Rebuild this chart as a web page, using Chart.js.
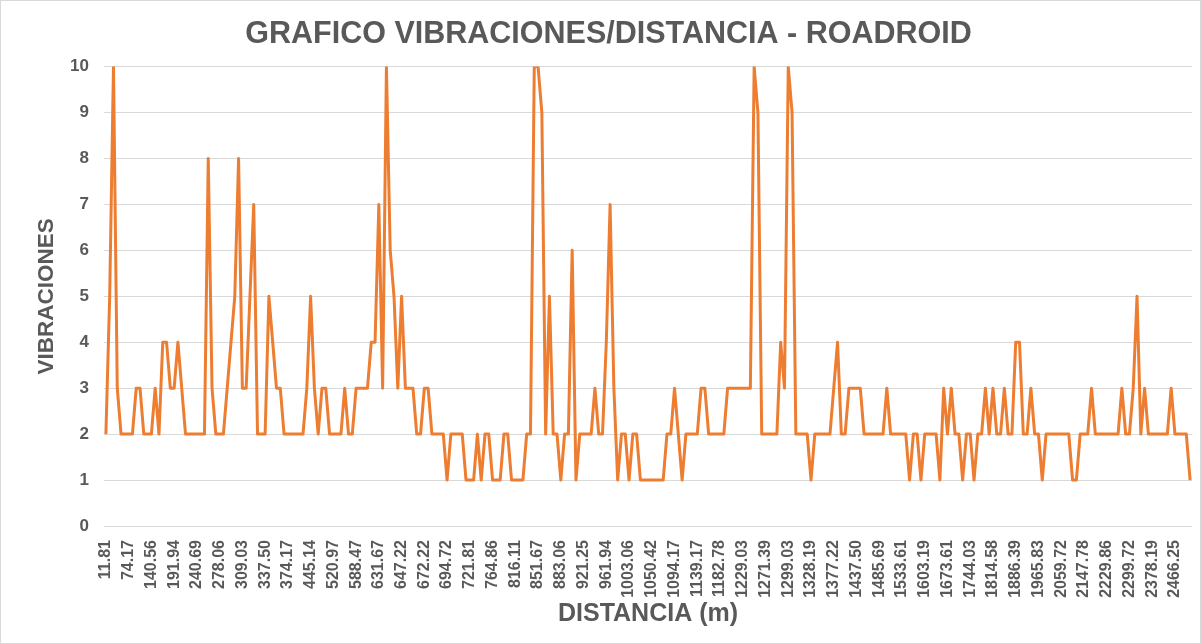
<!DOCTYPE html>
<html>
<head>
<meta charset="utf-8">
<script src="https://cdn.jsdelivr.net/npm/chart.js@4.4.1/dist/chart.umd.min.js"></script>
<style>
  html, body { margin: 0; padding: 0; background: #ffffff; }
  #wrap { width: 1201px; height: 644px; }
</style>
</head>
<body>
<div id="wrap"><canvas id="c" width="1201" height="644"></canvas></div>
<script>
// Tick labels shown on the category axis (one every 6 readings)
const distanciaTicks = [
  "11.81", "74.17", "140.56", "191.94", "240.69", "278.06", "309.03", "337.50",
  "374.17", "445.14", "520.97", "588.47", "631.67", "647.22", "672.22", "694.72",
  "721.81", "764.86", "816.11", "851.67", "883.06", "921.25", "961.94", "1003.06",
  "1050.42", "1094.17", "1139.17", "1182.78", "1229.03", "1271.39", "1299.03", "1328.19",
  "1377.22", "1437.50", "1485.69", "1533.61", "1603.19", "1673.61", "1744.03", "1814.58",
  "1886.39", "1965.83", "2059.72", "2147.78", "2229.86", "2299.72", "2378.19", "2466.25"
];
const tickEvery = 6;

// Vibration readings, in order along the road
const vibraciones = [
  2,5,10,3,2,2,2,2,3,3,
  2,2,2,3,2,4,4,3,3,4,
  3,2,2,2,2,2,2,8,3,2,
  2,2,3,4,5,8,3,3,5,7,
  2,2,2,5,4,3,3,2,2,2,
  2,2,2,3,5,3,2,3,3,2,
  2,2,2,3,2,2,3,3,3,3,
  4,4,7,3,10,6,5,3,5,3,
  3,3,2,2,3,3,2,2,2,2,
  1,2,2,2,2,1,1,1,2,1,
  2,2,1,1,1,2,2,1,1,1,
  1,2,2,10,10,9,2,5,2,2,
  1,2,2,6,1,2,2,2,2,3,
  2,2,4,7,3,1,2,2,1,2,
  2,
  1,1,1,1,1,1,1,
  2,2,3,2,1,2,2,2,2,3,
  3,2,2,2,2,2,3,3,3,3,
  3,3,3,10,9,2,2,2,2,2,
  4,3,10,9,2,2,2,2,1,2,
  2,2,2,2,3,4,2,2,3,3,
  3,3,2,2,2,2,2,2,3,2,
  2,2,2,2,1,2,2,1,2,2,
  2,2,1,3,2,3,2,2,1,2,
  2,1,2,2,3,2,3,2,2,3,
  2,2,4,4,2,2,3,2,2,1,
  2,2,2,2,2,2,2,1,1,2,
  2,2,3,2,2,2,2,2,2,2,
  3,2,2,3,5,2,3,2,2,2,
  2,2,2,3,2,2,2,2,1
];

const yTicks = [0,1,2,3,4,5,6,7,8,9,10];

const labels = vibraciones.map((_, i) =>
  (i % tickEvery === 0 && distanciaTicks[i / tickEvery] !== undefined) ? distanciaTicks[i / tickEvery] : ""
);

const TXT = '#595959';
const FONT = 'Liberation Sans, Arial, sans-serif';

const borderPlugin = {
  id: 'frame',
  afterDraw(chart) {
    const ctx = chart.ctx;
    ctx.save();
    ctx.strokeStyle = '#d9d9d9';
    ctx.lineWidth = 1;
    ctx.strokeRect(0.5, 0.5, chart.width - 1, chart.height - 1);
    ctx.restore();
  }
};

new Chart(document.getElementById('c'), {
  type: 'line',
  data: {
    labels: labels,
    datasets: [{
      label: 'Vibraciones',
      data: vibraciones,
      borderColor: '#ED7D31',
      backgroundColor: '#ED7D31',
      borderWidth: 3,
      pointRadius: 0,
      tension: 0,
      fill: false,
      borderJoinStyle: 'round'
    }]
  },
  options: {
    responsive: false,
    animation: false,
    devicePixelRatio: 1,
    layout: { padding: { left: 25, right: 9, top: 0, bottom: 0 } },
    plugins: {
      legend: { display: false },
      tooltip: { enabled: false },
      title: {
        display: true,
        text: 'GRAFICO VIBRACIONES/DISTANCIA - ROADROID',
        color: TXT,
        font: { family: FONT, size: 30.5, weight: 'bold', lineHeight: 1.2 },
        padding: { top: 16, bottom: 14 }
      }
    },
    scales: {
      x: {
        type: 'category',
        offset: true,
        grid: { display: false, offset: true },
        border: { display: false },
        ticks: {
          autoSkip: false,
          minRotation: 90,
          maxRotation: 90,
          padding: 6,
          color: TXT,
          font: { family: FONT, size: 16, weight: 'bold' }
        },
        title: {
          display: true,
          text: 'DISTANCIA (m)',
          color: TXT,
          font: { family: FONT, size: 25, weight: 'bold', lineHeight: 1.2 },
          padding: { top: 0, bottom: 15 }
        },
        afterFit(s) { s.height = 118; s.paddingLeft = 0; s.paddingRight = 0; }
      },
      y: {
        min: 0,
        max: 10,
        afterBuildTicks(s) { s.ticks = yTicks.map(v => ({ value: v })); },
        grid: { color: '#d9d9d9', lineWidth: 1, drawTicks: false },
        border: { display: false },
        ticks: {
          padding: 15,
          color: TXT,
          font: { family: FONT, size: 17, weight: 'bold' }
        },
        title: {
          display: true,
          text: 'VIBRACIONES',
          color: TXT,
          font: { family: FONT, size: 22.5, weight: 'bold', lineHeight: 1.2 },
          padding: { top: 8.5 }
        },
        afterFit(s) { s.width = 79; s.paddingTop = 0; s.paddingBottom = 0; }
      }
    }
  },
  plugins: [borderPlugin]
});
</script>
</body>
</html>
